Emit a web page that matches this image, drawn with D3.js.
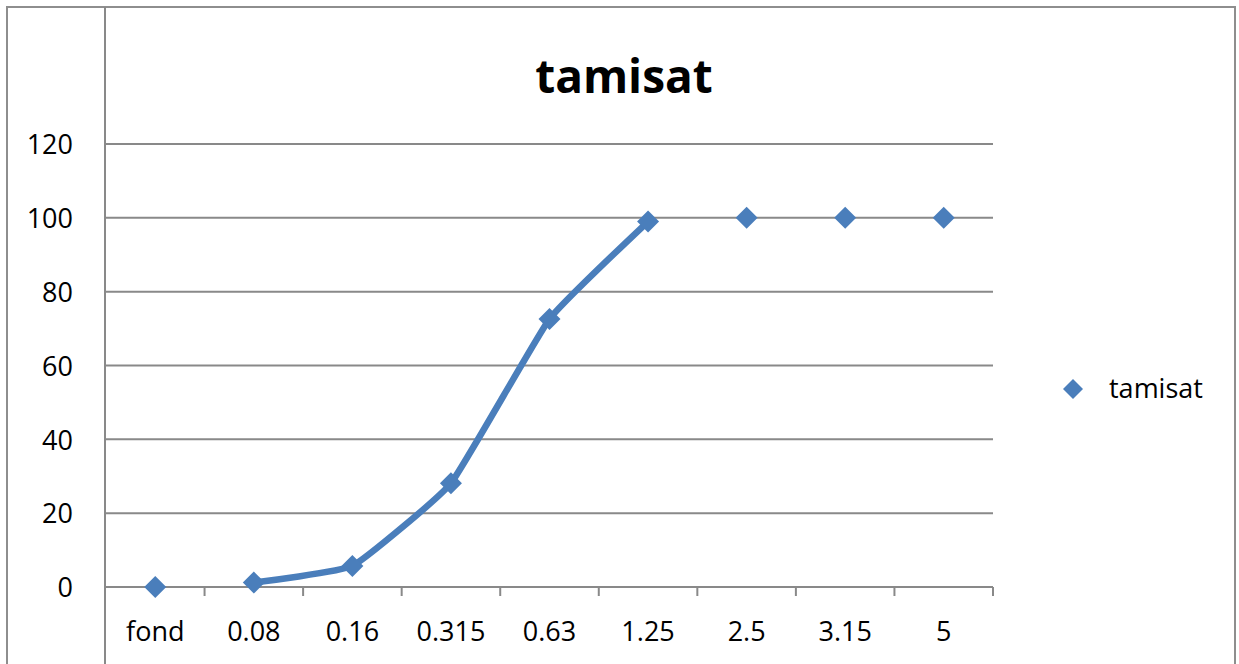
<!DOCTYPE html>
<html><head><meta charset="utf-8">
<script src="https://cdn.jsdelivr.net/npm/d3@7"></script>
<style>html,body{margin:0;padding:0;background:#fff;}svg{display:block;}</style>
</head><body>
<svg id="c" width="1239" height="664"></svg>
<script>
const title = "tamisat";
const seriesName = "tamisat";
const categories = ["fond","0.08","0.16","0.315","0.63","1.25","2.5","3.15","5"];
const values = [0, 1.2, 5.7, 28.1, 72.6, 99.0, 100, 100, 100];
const connected = ["0.08","0.16","0.315","0.63","1.25"];
const yTicks = [0, 20, 40, 60, 80, 100, 120];

(function () {
const svg = d3.select("#c");
const font = "'Open Sans', 'DejaVu Sans', sans-serif";
const blue = "#4a7ebb";
const grid = "#898989";

const pLeft = 106, pRight = 993, pTop = 144, pBottom = 587;
const x = d3.scaleBand().domain(categories).range([pLeft, pRight]).padding(0);
const y = d3.scaleLinear().domain([0, 120]).range([pBottom, pTop]);

// outer border
svg.append("rect").attr("x", 7).attr("y", 7).attr("width", 1228).attr("height", 700)
  .attr("fill", "#fff").attr("stroke", "#8e8e8e").attr("stroke-width", 2);

// gridlines
svg.append("g").selectAll("line").data(yTicks.filter(d => d > 0)).join("line")
  .attr("x1", pLeft).attr("x2", pRight)
  .attr("y1", d => y(d)).attr("y2", d => y(d))
  .attr("stroke", grid).attr("stroke-width", 2);

// y axis line (full height)
svg.append("line").attr("x1", 105).attr("x2", 105).attr("y1", 7).attr("y2", 664)
  .attr("stroke", grid).attr("stroke-width", 2);

// x axis
const xAxis = d3.axisBottom(x).tickSize(0).tickPadding(0);
const gx = svg.append("g").attr("transform", `translate(0,${pBottom})`).call(xAxis);
gx.select(".domain").remove();
gx.selectAll("text").attr("font-family", font).attr("font-size", 27).attr("fill", "#000")
  .attr("dy", null).attr("y", 54);
svg.append("line").attr("x1", pLeft).attr("x2", pRight).attr("y1", pBottom).attr("y2", pBottom)
  .attr("stroke", grid).attr("stroke-width", 2);
const bounds = categories.map(c => x(c) + x.bandwidth());
svg.append("g").selectAll("line").data(bounds).join("line")
  .attr("x1", d => d).attr("x2", d => d).attr("y1", pBottom).attr("y2", pBottom + 9)
  .attr("stroke", grid).attr("stroke-width", 2);

// y axis labels
const yAxis = d3.axisLeft(y).tickValues(yTicks).tickSize(0).tickPadding(0);
const gy = svg.append("g").attr("transform", `translate(73,0)`).call(yAxis);
gy.select(".domain").remove();
gy.selectAll("text").attr("font-family", font).attr("font-size", 27).attr("fill", "#000")
  .attr("dy", "0.36em").attr("x", 0);

// line
const pts = categories.map((c, i) => ({c, v: values[i]}));
const linePts = pts.filter(p => connected.includes(p.c));
const line = d3.line().x(p => x(p.c) + x.bandwidth() / 2).y(p => y(p.v))
  .curve(d3.curveCardinal.tension(0.65));
svg.append("path").attr("d", line(linePts)).attr("fill", "none")
  .attr("stroke", blue).attr("stroke-width", 6.5).attr("stroke-linejoin", "round");

// diamond markers
const diamond = { draw(ctx, size) { const r = Math.sqrt(size / 2);
  ctx.moveTo(0, -r); ctx.lineTo(r, 0); ctx.lineTo(0, r); ctx.lineTo(-r, 0); ctx.closePath(); } };
svg.append("g").selectAll("path").data(pts).join("path")
  .attr("d", d3.symbol().type(diamond).size(2 * 11 * 11))
  .attr("transform", p => `translate(${x(p.c) + x.bandwidth() / 2},${y(p.v)})`)
  .attr("fill", blue);

// title
svg.append("text").attr("x", 624).attr("y", 93).attr("text-anchor", "middle")
  .attr("font-family", font).attr("font-weight", "bold").attr("font-size", 46).attr("fill", "#000")
  .text(title);

// legend
svg.append("path").attr("d", d3.symbol().type(diamond).size(2 * 10 * 10)())
  .attr("transform", "translate(1073,389)").attr("fill", blue);
svg.append("text").attr("x", 1109).attr("y", 398).attr("font-family", font)
  .attr("font-size", 27).attr("fill", "#000").text(seriesName);
})();
</script>
</body></html>
